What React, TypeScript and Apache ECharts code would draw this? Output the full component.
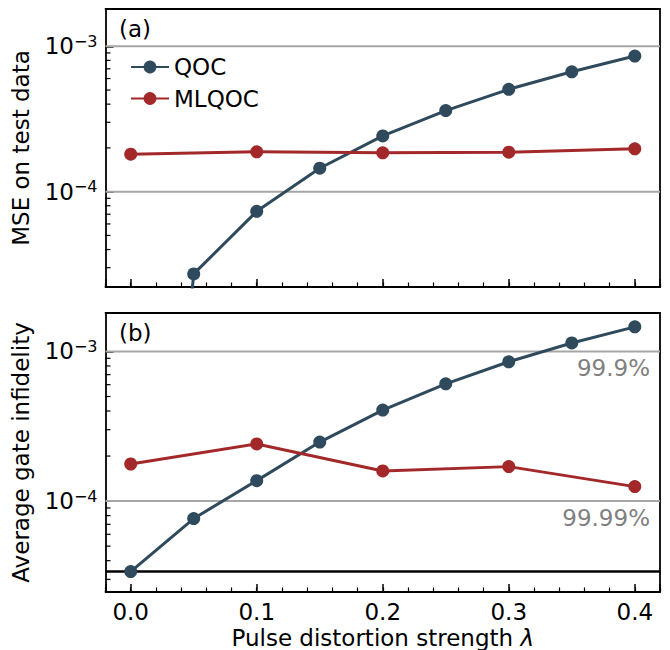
import React, { useEffect, useRef } from 'react';
import * as echarts from 'echarts';

// ---- data ----
const lambdaQOC = [0, 0.05, 0.1, 0.15, 0.2, 0.25, 0.3, 0.35, 0.4];
const lambdaML = [0, 0.1, 0.2, 0.3, 0.4];
const mseQOC = [1e-9, 2.72e-5, 7.33e-5, 1.45e-4, 2.42e-4, 3.61e-4, 5.06e-4, 6.68e-4, 8.57e-4];
const mseML = [1.81e-4, 1.88e-4, 1.85e-4, 1.87e-4, 1.97e-4];
const infQOC = [3.38e-5, 7.65e-5, 1.37e-4, 2.48e-4, 4.06e-4, 6.08e-4, 8.53e-4, 1.14e-3, 1.46e-3];
const infML = [1.77e-4, 2.41e-4, 1.59e-4, 1.70e-4, 1.25e-4];
const gridValues = [1e-3, 1e-4];
const fidelityLabels = ['99.9%', '99.99%'];
const panelLabels = ['(a)', '(b)'];
const seriesNames = ['QOC', 'MLQOC'];

// ---- axis ranges ----
const X_MIN = -0.02;
const X_MAX = 0.42;
const Y_TOP = { min: 2.21e-5, max: 1.805e-3 };
const Y_BOT = { min: 2.47e-5, max: 1.807e-3 };

const FONT = 'DejaVu Sans';
const FS = 23;
const C_QOC = '#2e4a5c';
const C_ML = '#a3282a';
const C_GRID = '#a6a6a6';
const SPINE = 1.8;

const grids = [
  { left: 105.5, top: 9, width: 554.5, height: 278 },
  { left: 105.5, top: 313, width: 554.5, height: 279.5 },
];

const fmtX = (v: number) => {
  const r = Math.round(v * 10);
  return Math.abs(v * 10 - r) < 1e-6 ? (r / 10).toFixed(1) : '';
};
const fmtY = (v: number) => {
  const l = Math.log10(v);
  const e = Math.round(l);
  if (Math.abs(l - e) > 1e-6) return '';
  return `{b|10}{s|${e < 0 ? '\u2212' : ''}${Math.abs(e)}}`;
};

function xAxes(gi: number, withLabels: boolean) {
  return [
    {
      type: 'value', gridIndex: gi, min: X_MIN, max: X_MAX, splitNumber: 4, position: 'bottom',
      axisLine: { show: true, onZero: false, lineStyle: { color: '#000', width: SPINE } },
      axisTick: { show: true, inside: true, length: 8, lineStyle: { color: '#000', width: 1.5 } },
      axisLabel: withLabels
        ? { show: true, formatter: fmtX, margin: 8, fontSize: FS, fontFamily: FONT, color: '#000' }
        : { show: false },
      splitLine: { show: false },
      name: withLabels ? '{n|Pulse distortion strength }{i|\u03bb}' : '',
      nameLocation: 'middle',
      nameGap: 34,
      nameTextStyle: {
        rich: {
          n: { fontSize: FS, fontFamily: FONT, color: '#000' },
          i: { fontSize: FS, fontFamily: FONT, fontStyle: 'italic', color: '#000' },
        },
      },
    },
    {
      type: 'value', gridIndex: gi, min: X_MIN, max: X_MAX, interval: 0.02, position: 'bottom',
      axisLine: { show: false, onZero: false },
      axisTick: { show: true, inside: true, length: 4.5, lineStyle: { color: '#000', width: 1.2 } },
      axisLabel: { show: false },
      splitLine: { show: false },
    },
    {
      type: 'value', gridIndex: gi, min: 0, max: 1, position: 'top',
      axisLine: { show: true, onZero: false, lineStyle: { color: '#000', width: SPINE } },
      axisTick: { show: false }, axisLabel: { show: false }, splitLine: { show: false },
    },
  ];
}

function yAxes(gi: number, range: { min: number; max: number }, name: string) {
  return [
    {
      type: 'log', gridIndex: gi, min: range.min, max: range.max, logBase: 10, position: 'left',
      axisLine: { show: true, onZero: false, lineStyle: { color: '#000', width: SPINE } },
      axisTick: { show: true, inside: true, length: 8, lineStyle: { color: '#000', width: 1.5 } },
      axisLabel: {
        show: true, formatter: fmtY, margin: 8,
        rich: {
          b: { fontSize: FS, fontFamily: FONT, color: '#000', lineHeight: 26 },
          s: { fontSize: 16, fontFamily: FONT, color: '#000', verticalAlign: 'top', lineHeight: 16 },
        },
      },
      splitLine: { show: false },
      minorTick: { show: false },
      name,
      nameLocation: 'middle',
      nameGap: 73,
      nameTextStyle: { fontSize: FS, fontFamily: FONT, color: '#000' },
    },
    {
      type: 'value', gridIndex: gi, min: 0, max: 1, position: 'right',
      axisLine: { show: true, onZero: false, lineStyle: { color: '#000', width: SPINE } },
      axisTick: { show: false }, axisLabel: { show: false }, splitLine: { show: false },
    },
  ];
}

function dataSeries(name: string, xs: number[], ys: number[], color: string, xi: number, yi: number, z: number) {
  return {
    name, type: 'line', xAxisIndex: xi, yAxisIndex: yi,
    data: xs.map((x, i) => [x, ys[i]]),
    symbol: 'circle', symbolSize: 13, clip: true, z,
    lineStyle: { color, width: 3 },
    itemStyle: { color },
    emphasis: { disabled: true },
  };
}

export default function App() {
  const ref = useRef<HTMLDivElement>(null);
  useEffect(() => {
    if (!ref.current) return;
    const chart = echarts.init(ref.current, null, { renderer: 'svg' });
    const option: any = {
      animation: false,
      grid: grids,
      xAxis: [...xAxes(0, false), ...xAxes(1, true)],
      yAxis: [...yAxes(0, Y_TOP, 'MSE on test data'), ...yAxes(1, Y_BOT, 'Average gate infidelity')],
      legend: {
        data: seriesNames,
        orient: 'vertical',
        left: 130, top: 55.5, padding: 0,
        itemWidth: 38, itemHeight: 16, itemGap: 8.5, itemTextGap: 13,
        textStyle: { fontSize: FS, fontFamily: FONT, color: '#000' },
        selectedMode: false,
      },
      series: [
        dataSeries(seriesNames[0], lambdaQOC, mseQOC, C_QOC, 0, 0, 3),
        dataSeries(seriesNames[1], lambdaML, mseML, C_ML, 0, 0, 4),
        dataSeries(seriesNames[0], lambdaQOC, infQOC, C_QOC, 3, 2, 3),
        dataSeries(seriesNames[1], lambdaML, infML, C_ML, 3, 2, 4),
      ],
    };
    chart.setOption(option);

    const px = (xi: number, yi: number, x: number, y: number) =>
      chart.convertToPixel({ xAxisIndex: xi, yAxisIndex: yi } as any, [x, y]) as number[];

    const graphics: any[] = [];
    panelLabels.forEach((t, i) => {
      graphics.push({
        type: 'text', left: 119, top: grids[i].top + 8, silent: true, z: 20,
        style: { text: t, font: `${FS}px "${FONT}"`, fill: '#000' },
      });
    });
    const panels = [
      { xi: 0, yi: 0, r: Y_TOP, labels: false },
      { xi: 3, yi: 2, r: Y_BOT, labels: true },
    ];
    panels.forEach((p) => {
      // minor log ticks
      for (let e = -6; e <= -2; e++) {
        for (let k = 2; k <= 9; k++) {
          const v = k * Math.pow(10, e);
          if (v <= p.r.min || v >= p.r.max) continue;
          const pt = px(p.xi, p.yi, X_MIN, v);
          graphics.push({
            type: 'line', silent: true, z: 20,
            shape: { x1: pt[0], y1: pt[1], x2: pt[0] + 5, y2: pt[1] },
            style: { stroke: '#000', lineWidth: 1.2 },
          });
        }
      }
      // horizontal grid lines at decades
      gridValues.forEach((v, i) => {
        const a = px(p.xi, p.yi, X_MIN, v);
        const b = px(p.xi, p.yi, X_MAX, v);
        graphics.push({
          type: 'line', silent: true, z: 1,
          shape: { x1: a[0], y1: a[1], x2: b[0], y2: b[1] },
          style: { stroke: C_GRID, lineWidth: 2 },
        });
        if (p.labels) {
          graphics.push({
            type: 'text', silent: true, z: 20,
            x: b[0] - 10, y: b[1] + 5,
            style: {
              text: fidelityLabels[i], font: `${FS}px "${FONT}"`, fill: '#808080',
              align: 'right', verticalAlign: 'top',
            },
          });
        }
      });
    });
    // baseline at the QOC value for lambda = 0 (panel b)
    const b0 = px(3, 2, X_MIN, infQOC[0]);
    const b1 = px(3, 2, X_MAX, infQOC[0]);
    graphics.push({
      type: 'line', silent: true, z: 2,
      shape: { x1: b0[0], y1: b0[1], x2: b1[0], y2: b1[1] },
      style: { stroke: '#000', lineWidth: 2.5 },
    });
    chart.setOption({ graphic: graphics });
    return () => chart.dispose();
  }, []);
  return <div ref={ref} style={{ position: 'absolute', left: 0, top: 0, width: 670, height: 650 }} />;
}
